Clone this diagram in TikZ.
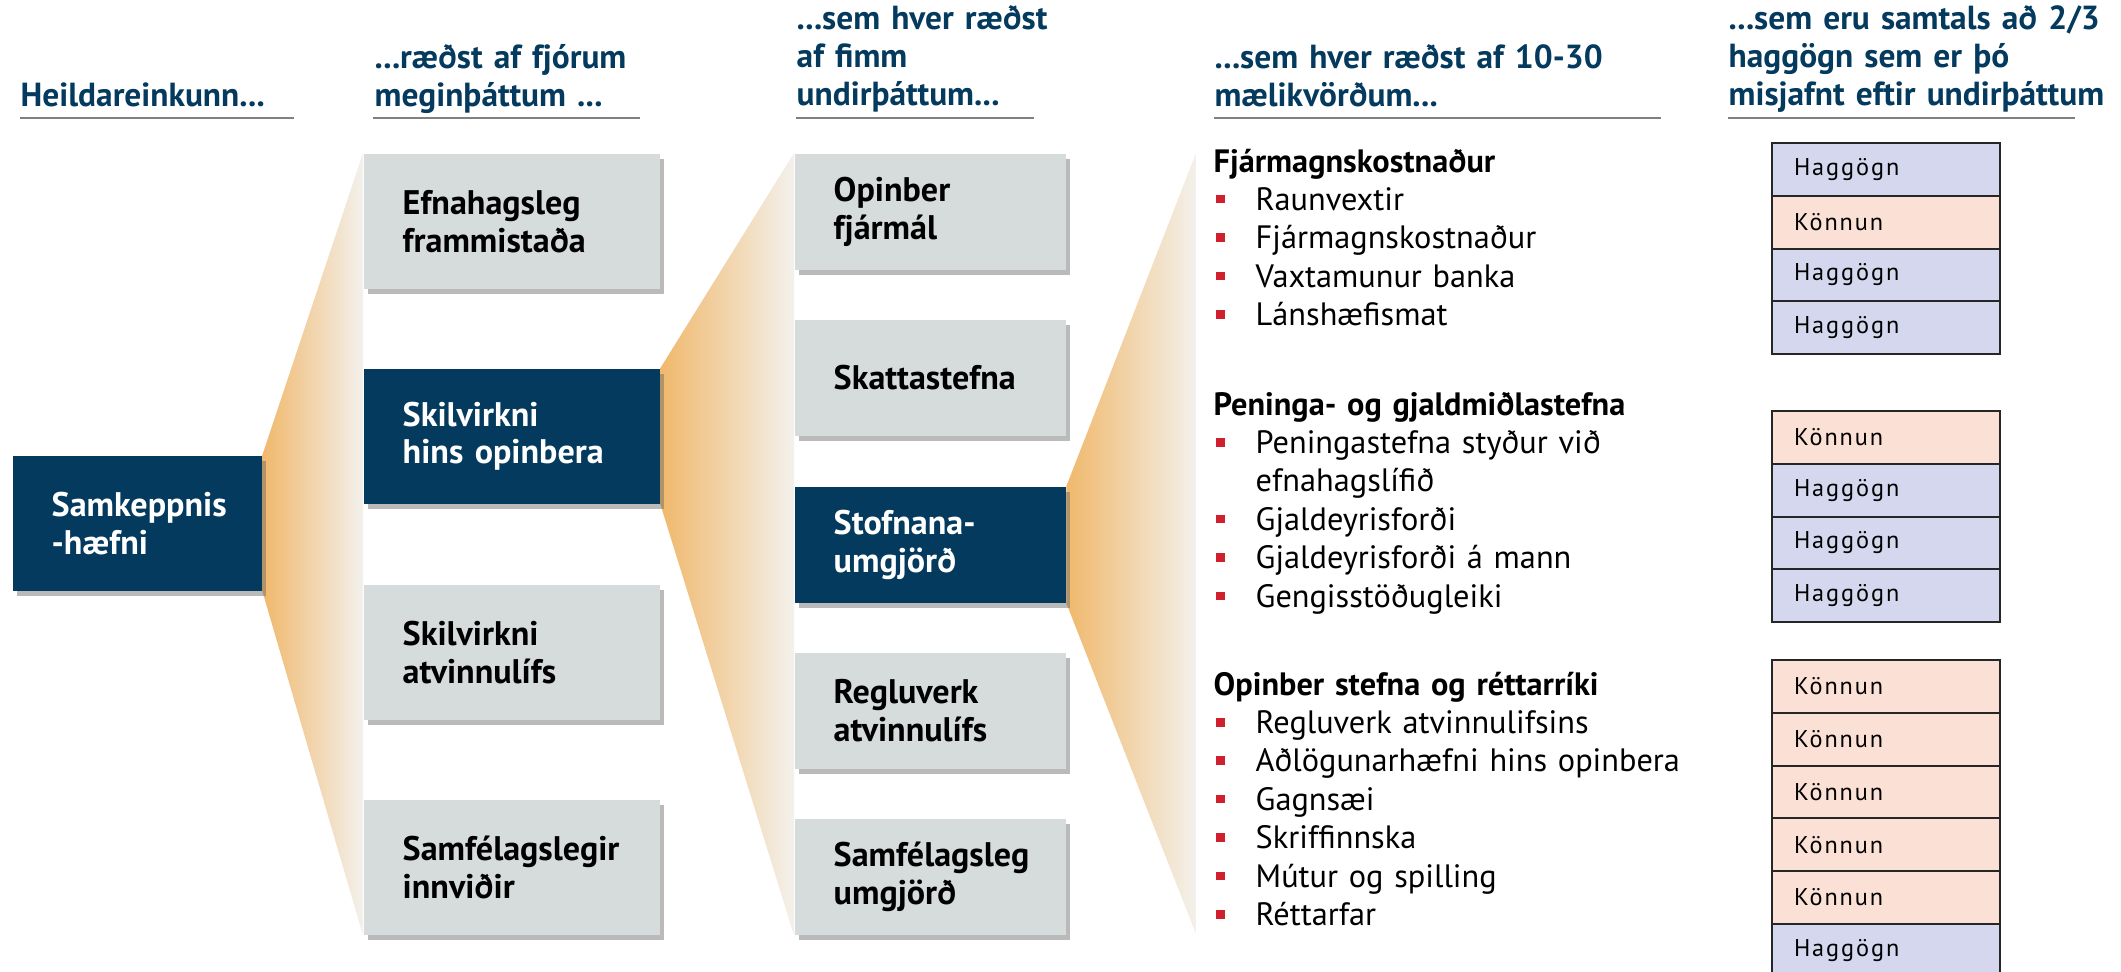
\documentclass[tikz,border=0pt]{standalone}
\usepackage{fontspec}
\setmainfont{PT Sans}
\newfontfamily\headfont{PT Sans}
\newfontfamily\cellfont[LetterSpace=8]{PT Sans}
\usetikzlibrary{shadows, backgrounds}

\definecolor{navy}{HTML}{033A5E}
\definecolor{boxgray}{HTML}{D6DCDC}
\definecolor{fanorange}{HTML}{F0B86C}
\definecolor{fanlight}{HTML}{F3F1EC}
\definecolor{rowblue}{HTML}{D4D7EE}
\definecolor{rowpeach}{HTML}{FBE0D6}
\definecolor{bulletred}{HTML}{D0202E}
\definecolor{rulegray}{HTML}{808080}

% red square in front of a measure
\newcommand{\itm}[1]{\leavevmode\rlap{\hspace{0.2mm}\textcolor{bulletred}{\rule[0.7mm]{0.95mm}{0.85mm}}}\hspace*{4.2mm}#1}

\tikzset{
  header/.style={anchor=base west, inner sep=0pt, text width=45mm, align=left, text=navy,
    font=\headfont\bfseries\fontsize{9.5}{10.95}\selectfont},
  underline/.style={draw=rulegray, line width=0.2mm},
  factor/.style={anchor=north west, minimum width=29.6mm, minimum height=13.5mm,
    text width=21.8mm, inner xsep=3.9mm, align=left, fill=boxgray,
    font=\bfseries\fontsize{9.7}{10.8}\selectfont,
    drop shadow={shadow xshift=0.45mm, shadow yshift=-0.55mm, opacity=0.45, fill=black!60}},
  subfactor/.style={factor, minimum width=27.1mm, minimum height=11.6mm, text width=19.3mm},
  chosen/.style={fill=navy, text=white},
  measures/.style={anchor=base west, inner sep=0pt, text width=50mm, align=left,
    font=\fontsize{9.2}{10.95}\selectfont},
  cell/.style={anchor=north west, draw=black!85, line width=0.2mm,
    minimum width=22.8mm, minimum height=5.275mm, text width=18.4mm,
    inner xsep=2.2mm, align=left, font=\cellfont\fontsize{6.9}{8}\selectfont},
  fan/.style={left color=fanorange, right color=fanlight},
}

\begin{document}
\begin{tikzpicture}[x=0.1mm, y=-0.1mm]
	\path[use as bounding box, clip] (0,0) rectangle (2121,971);

	% column headings
	\node[header] (h1) at (20,106) {Heildareinkunn...};
	\node[header] (h2) at (374,68) {...ræðst af fjórum\\meginþáttum ...};
	\node[header] (h3) at (796,29) {...sem hver ræðst\\af fimm\\undirþáttum...};
	\node[header] (h4) at (1214,68) {...sem hver ræðst af 10-30\\mælikvörðum...};
	\node[header] (h5) at (1728,29) {...sem eru samtals að 2/3\\haggögn sem er þó\\misjafnt eftir undirþáttum};
	\foreach \a/\b in {20/294, 373/640, 796/1034, 1214/1661, 1728/2075}
		\draw[underline] (\a,118) -- (\b,118);

	% boxes
	\node[factor, chosen, minimum width=24.9mm, text width=17.1mm] (samk) at (12,455) {Samkeppnis\\-hæfni};
	\node[factor] (efna) at (363,153) {Efnahagsleg\\frammistaða};
	\node[factor, chosen] (opin) at (363,368) {Skilvirkni\\hins opinbera};
	\node[factor] (atvi) at (363,584) {Skilvirkni\\atvinnulífs};
	\node[factor] (innv) at (363,799) {Samfélagslegir\\innviðir};

	\node[subfactor] (fjar) at (794,153) {Opinber\\fjármál};
	\node[subfactor] (skat) at (794,319) {Skattastefna};
	\node[subfactor, chosen] (stof) at (794,486) {Stofnana-\\umgjörð};
	\node[subfactor] (regl) at (794,652) {Regluverk\\atvinnulífs};
	\node[subfactor] (umgj) at (794,818) {Samfélagsleg\\umgjörð};

	\coordinate (fantop) at (1196,153);
	\coordinate (fanbot) at (1196,934);

	% fans behind the boxes
	\begin{scope}[on background layer]
		\shade[fan] (samk.north east) -- (efna.north west) -- (innv.south west) -- (samk.south east) -- cycle;
		\shade[fan] (opin.north east) -- (fjar.north west) -- (umgj.south west) -- (opin.south east) -- cycle;
		\shade[fan] (stof.north east) -- (fantop) -- (fanbot) -- (stof.south east) -- cycle;
	\end{scope}

	% measures
	\node[measures] (m1) at (1213,172) {\textbf{Fjármagnskostnaður}\\
		\itm{Raunvextir}\\ \itm{Fjármagnskostnaður}\\ \itm{Vaxtamunur banka}\\ \itm{Lánshæfismat}};
	\node[measures] (m2) at (1213,415) {\textbf{Peninga- og gjaldmiðlastefna}\\
		\itm{Peningastefna styður við}\\ \hspace*{4.2mm}efnahagslífið\\
		\itm{Gjaldeyrisforði}\\ \itm{Gjaldeyrisforði á mann}\\ \itm{Gengisstöðugleiki}};
	\node[measures] (m3) at (1213,695) {\textbf{Opinber stefna og réttarríki}\\
		\itm{Regluverk atvinnulifsins}\\ \itm{Aðlögunarhæfni hins opinbera}\\ \itm{Gagnsæi}\\
		\itm{Skriffinnska}\\ \itm{Mútur og spilling}\\ \itm{Réttarfar}};

	% data sources
	\foreach \clr/\txt [count=\i] in {rowblue/Haggögn, rowpeach/Könnun, rowblue/Haggögn, rowblue/Haggögn}
		\node[cell, fill=\clr] (ta\i) at (1771,{142+(\i-1)*52.75}) {\txt};
	\foreach \clr/\txt [count=\i] in {rowpeach/Könnun, rowblue/Haggögn, rowblue/Haggögn, rowblue/Haggögn}
		\node[cell, fill=\clr] (tb\i) at (1771,{410+(\i-1)*52.75}) {\txt};
	\foreach \clr/\txt [count=\i] in {rowpeach/Könnun, rowpeach/Könnun, rowpeach/Könnun, rowpeach/Könnun, rowpeach/Könnun, rowblue/Haggögn}
		\node[cell, fill=\clr] (tc\i) at (1771,{659+(\i-1)*52.75}) {\txt};

\end{tikzpicture}
\end{document}
